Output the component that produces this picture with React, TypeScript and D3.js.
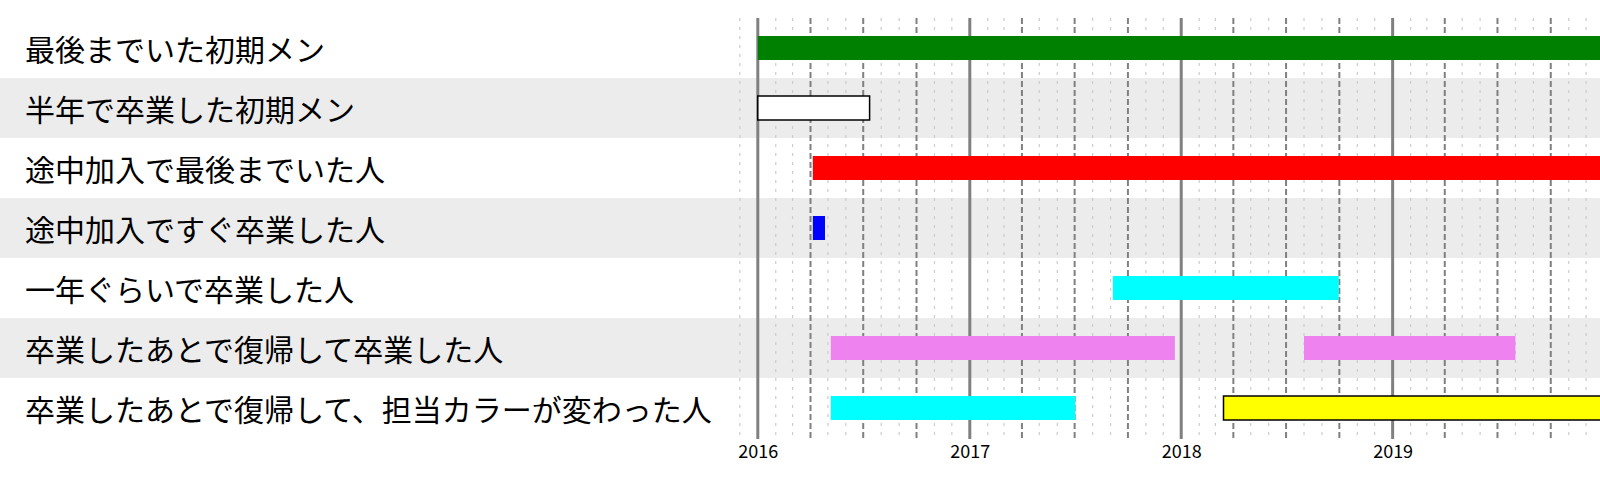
import * as d3 from "d3";
import { useEffect, useRef } from "react";

// ---- データ ----
const rowLabels = [
  "最後までいた初期メン",
  "半年で卒業した初期メン",
  "途中加入で最後までいた人",
  "途中加入ですぐ卒業した人",
  "一年ぐらいで卒業した人",
  "卒業したあとで復帰して卒業した人",
  "卒業したあとで復帰して、担当カラーが変わった人",
];

// 各期間（バー）
const barRow = [0, 1, 2, 3, 4, 5, 5, 6, 6];
const barStart = ["2016-01-01", "2016-01-01", "2016-04-05", "2016-04-05", "2017-09-05", "2016-05-06", "2018-08-01", "2016-05-06", "2018-03-15"];
const barEnd = ["2020-01-01", "2016-07-12", "2020-01-01", "2016-04-26", "2018-09-30", "2017-12-21", "2019-08-01", "2017-07-02", "2020-01-01"];
const barColor = ["green", "white", "red", "blue", "cyan", "violet", "violet", "cyan", "yellow"];

const yearTicks = ["2016-01-01", "2017-01-01", "2018-01-01", "2019-01-01"];
const domainDates = ["2015-11-14", "2019-12-25"];

export default function App() {
  const ref = useRef<SVGSVGElement | null>(null);

  useEffect(() => {
    const width = 1600;
    const height = 500;
    const top = 18;
    const rowH = 60;
    const left = 730;
    const parse = d3.timeParse("%Y-%m-%d");

    const svg = d3.select(ref.current);
    svg.selectAll("*").remove();
    svg.attr("viewBox", `0 0 ${width} ${height}`);

    const x = d3.scaleTime().domain(domainDates.map((d) => parse(d) as Date)).range([left, width]);
    const y = d3.scaleBand().domain(rowLabels).range([top, top + rowH * rowLabels.length]);
    const bottom = top + rowH * rowLabels.length;

    // ---- 行の背景 ----
    svg.append("g")
      .selectAll("rect")
      .data(rowLabels)
      .join("rect")
      .attr("x", 0)
      .attr("width", width)
      .attr("y", (d) => y(d)!)
      .attr("height", y.bandwidth())
      .attr("fill", (_, i) => (i % 2 === 1 ? "#ececec" : "white"));

    // ---- 行ラベル ----
    svg.append("g")
      .selectAll("text")
      .data(rowLabels)
      .join("text")
      .attr("x", 25)
      .attr("y", (d) => y(d)! + y.bandwidth() / 2)
      .attr("dominant-baseline", "central")
      .attr("font-family", "'Noto Sans CJK JP', sans-serif")
      .attr("font-size", 30)
      .attr("fill", "black")
      .text((d) => d);

    // ---- 縦の補助線（月・四半期・年）----
    const [d0, d1] = x.domain();
    const months = d3.timeMonth.range(d3.timeMonth.ceil(d0), d1);
    svg.append("g")
      .selectAll("line")
      .data(months)
      .join("line")
      .attr("x1", (d) => x(d))
      .attr("x2", (d) => x(d))
      .attr("y1", top)
      .attr("y2", bottom + 1)
      .attr("stroke", (d) => (d.getMonth() === 0 ? "#808080" : d.getMonth() % 3 === 0 ? "#808080" : "#cccccc"))
      .attr("stroke-width", (d) => (d.getMonth() === 0 ? 3 : d.getMonth() % 3 === 0 ? 2 : 1.2))
      .attr("stroke-dasharray", (d) => (d.getMonth() === 0 ? null : d.getMonth() % 3 === 0 ? "6,3" : "3,6"));

    // ---- バー ----
    svg.append("g")
      .selectAll("rect")
      .data(barRow)
      .join("rect")
      .attr("x", (_, i) => x(parse(barStart[i]) as Date))
      .attr("width", (_, i) => x(parse(barEnd[i]) as Date) - x(parse(barStart[i]) as Date))
      .attr("y", (d) => y(rowLabels[d])! + y.bandwidth() / 2 - 12)
      .attr("height", 24)
      .attr("fill", (_, i) => barColor[i])
      .attr("stroke", (_, i) => (barColor[i] === "white" || barColor[i] === "yellow" ? "black" : "none"))
      .attr("stroke-width", 1.5);

    // ---- 年の目盛り ----
    const axis = svg.append("g")
      .attr("transform", `translate(0,${bottom})`)
      .call(
        d3.axisBottom(x)
          .tickValues(yearTicks.map((d) => parse(d) as Date))
          .tickFormat(d3.timeFormat("%Y") as any)
          .tickSize(0)
          .tickPadding(7)
      );
    axis.select(".domain").remove();
    axis.selectAll("text")
      .attr("font-family", "'Noto Sans CJK JP', sans-serif")
      .attr("font-size", 18)
      .attr("fill", "black");
  }, []);

  return (
    <svg
      ref={ref}
      width={1600}
      height={500}
      style={{ position: "absolute", left: 0, top: 0 }}
    />
  );
}
